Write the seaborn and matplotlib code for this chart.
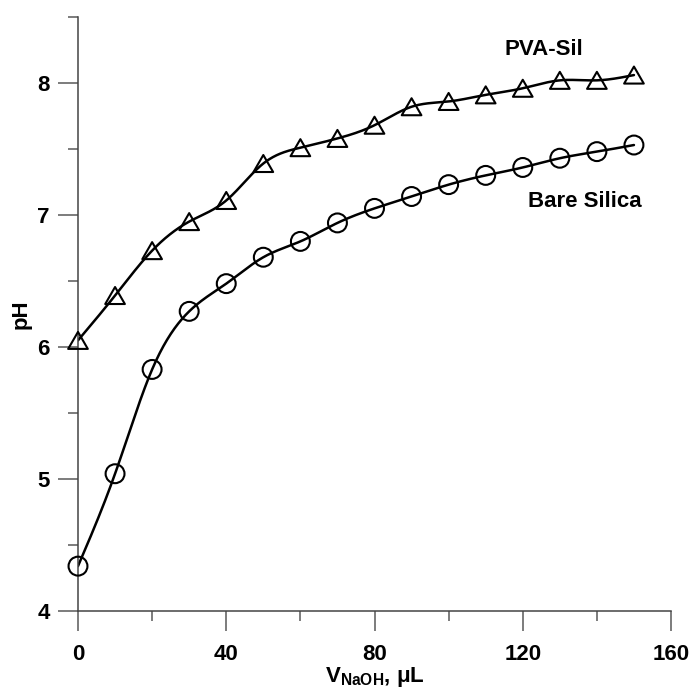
import numpy as np
import pandas as pd
import matplotlib
matplotlib.use("Agg")
import matplotlib.pyplot as plt
import seaborn as sns
from matplotlib.ticker import MultipleLocator
from matplotlib.path import Path

# ---- data ----
v_naoh = [0, 10, 20, 30, 40, 50, 60, 70, 80, 90, 100, 110, 120, 130, 140, 150]
ph_bare = [4.34, 5.04, 5.83, 6.27, 6.48, 6.68, 6.80, 6.94, 7.05, 7.14, 7.23, 7.30, 7.36, 7.43, 7.48, 7.53]
ph_pva = [6.05, 6.39, 6.73, 6.95, 7.11, 7.39, 7.51, 7.58, 7.68, 7.82, 7.86, 7.91, 7.96, 8.02, 8.02, 8.06]
series_names = ["Bare Silica", "PVA-Sil"]
x_ticks = [0, 40, 80, 120, 160]
y_ticks = [4, 5, 6, 7, 8]


def natural_spline(x, y, n=600):
    x = np.asarray(x, float)
    y = np.asarray(y, float)
    N = len(x)
    h = np.diff(x)
    A = np.zeros((N, N))
    r = np.zeros(N)
    A[0, 0] = 1.0
    A[-1, -1] = 1.0
    for i in range(1, N - 1):
        A[i, i - 1] = h[i - 1]
        A[i, i] = 2 * (h[i - 1] + h[i])
        A[i, i + 1] = h[i]
        r[i] = 3 * ((y[i + 1] - y[i]) / h[i] - (y[i] - y[i - 1]) / h[i - 1])
    c = np.linalg.solve(A, r)
    b = (y[1:] - y[:-1]) / h - h * (2 * c[:-1] + c[1:]) / 3
    d = (c[1:] - c[:-1]) / (3 * h)
    xs = np.linspace(x[0], x[-1], n)
    idx = np.clip(np.searchsorted(x, xs, side="right") - 1, 0, N - 2)
    dx = xs - x[idx]
    ys = y[idx] + b[idx] * dx + c[idx] * dx ** 2 + d[idx] * dx ** 3
    return xs, ys


pts = pd.concat([
    pd.DataFrame({"V": v_naoh, "pH": ph_bare, "series": series_names[0]}),
    pd.DataFrame({"V": v_naoh, "pH": ph_pva, "series": series_names[1]}),
], ignore_index=True)

curves = []
for name, vals in zip(series_names, [ph_bare, ph_pva]):
    xs, ys = natural_spline(v_naoh, vals)
    curves.append(pd.DataFrame({"V": xs, "pH": ys, "series": name}))
curves = pd.concat(curves, ignore_index=True)

sns.set_theme(style="ticks")
plt.rcParams["font.family"] = ["Liberation Sans", "DejaVu Sans"]
plt.rcParams["mathtext.fontset"] = "custom"
plt.rcParams["mathtext.bf"] = "Liberation Sans:bold"
plt.rcParams["mathtext.rm"] = "Liberation Sans"
plt.rcParams["text.color"] = "black"
plt.rcParams["axes.labelcolor"] = "black"
plt.rcParams["xtick.labelcolor"] = "black"
plt.rcParams["ytick.labelcolor"] = "black"

fig = plt.figure(figsize=(6.89, 6.93), dpi=100)
ax = fig.add_axes([0.1132, 0.1183, 0.8607, 0.8572])

sns.lineplot(data=curves, x="V", y="pH", units="series", estimator=None, sort=False,
             color="black", linewidth=1.8, ax=ax, legend=False)

tri = Path([(-1, -0.866), (1, -0.866), (0, 0.866), (-1, -0.866)],
           [Path.MOVETO, Path.LINETO, Path.LINETO, Path.CLOSEPOLY])
sns.scatterplot(data=pts[pts.series == "Bare Silica"], x="V", y="pH", marker="o", s=185,
                facecolor="none", edgecolor="black", linewidth=1.5, ax=ax, legend=False,
                clip_on=False, zorder=3)
sns.scatterplot(data=pts[pts.series == "PVA-Sil"], x="V", y="pH", marker=tri, s=200,
                facecolor="none", edgecolor="black", linewidth=1.5, ax=ax, legend=False,
                clip_on=False, zorder=3)

ax.set_xlim(0, 160)
ax.set_ylim(4, 8.5)
ax.set_xticks(x_ticks)
ax.set_yticks(y_ticks)
ax.xaxis.set_minor_locator(MultipleLocator(20))
ax.yaxis.set_minor_locator(MultipleLocator(0.5))

sns.despine(ax=ax)
for sp in ["left", "bottom"]:
    ax.spines[sp].set_color("#444444")
    ax.spines[sp].set_linewidth(1.1)

ax.tick_params(which="major", direction="out", length=14.4, width=1.2, color="#666666",
               labelsize=16, labelcolor="black")
ax.tick_params(axis="x", which="major", pad=9)
ax.tick_params(axis="y", which="major", pad=6)
ax.tick_params(which="minor", direction="out", length=7.2, width=1.2, color="#666666")
for lab in ax.get_xticklabels() + ax.get_yticklabels():
    lab.set_fontweight("bold")

ax.set_xlabel(r"V$_{\mathbf{NaOH}}$, μL", fontsize=16, fontweight="bold", labelpad=0,
              color="black")
ax.set_ylabel("pH", fontsize=16, fontweight="bold", labelpad=4, color="black")

ax.text(125.7, 8.25, "PVA-Sil", fontsize=16, fontweight="bold", ha="center", va="center",
        color="black")
ax.text(136.8, 7.10, "Bare Silica", fontsize=16, fontweight="bold", ha="center", va="center",
        color="black")

fig.savefig("out.png", dpi=100)
